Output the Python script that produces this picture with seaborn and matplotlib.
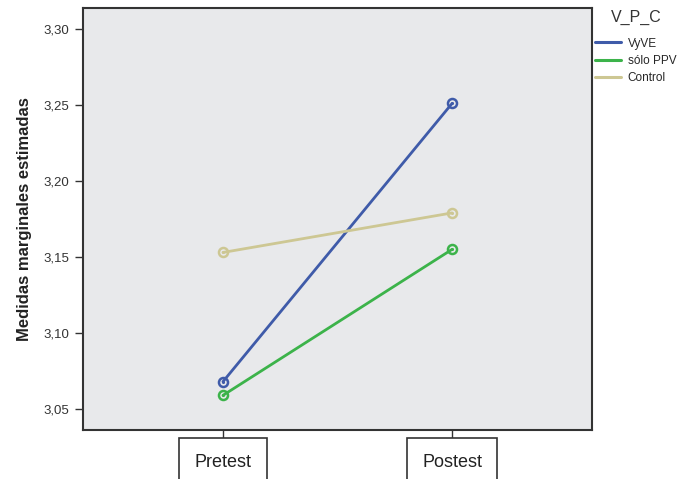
import matplotlib
matplotlib.use("Agg")
import matplotlib.pyplot as plt
import seaborn as sns
import pandas as pd
from matplotlib.lines import Line2D

# Estimated marginal means per group and moment
moments = ["Pretest", "Postest"]
groups = ["VyVE", "sólo PPV", "Control"]
vyve = [3.068, 3.251]
solo_ppv = [3.059, 3.155]
control = [3.153, 3.179]
yticks = [3.05, 3.10, 3.15, 3.20, 3.25, 3.30]
ytick_labels = ["3,05", "3,10", "3,15", "3,20", "3,25", "3,30"]

colors = {"VyVE": "#3f5ba9", "sólo PPV": "#3cb34a", "Control": "#cdc793"}

rows = []
for g, vals in zip(groups, [vyve, solo_ppv, control]):
    for i, (m, v) in enumerate(zip(moments, vals)):
        rows.append({"grupo": g, "momento": m, "pos": i, "valor": v})
df = pd.DataFrame(rows)

sns.set_style("white")
plt.rcParams["font.family"] = ["Liberation Sans", "DejaVu Sans"]

fig = plt.figure(figsize=(6.93, 4.79), dpi=100)
ax = fig.add_axes([83 / 693, 1 - 430 / 479, 509 / 693, 422 / 479])
ax.set_facecolor("#e8e9eb")

for g in groups:
    sub = df[df["grupo"] == g]
    c = colors[g]
    sns.lineplot(data=sub, x="pos", y="valor", ax=ax, color=c, lw=2.0,
                 marker="o", ms=6.5, mfc="none", mec=c, mew=1.8, legend=False)
    sns.scatterplot(data=sub, x="pos", y="valor", ax=ax, color=c, s=5,
                    linewidth=0, legend=False, zorder=5)

ax.set_xlim(-0.611, 1.611)
ax.set_ylim(3.0362, 3.3138)
ax.set_yticks(yticks)
ax.set_yticklabels(ytick_labels)
ax.set_xticks([0, 1])
ax.set_xticklabels(moments)
ax.set_xlabel("")
ax.set_ylabel("Medidas marginales estimadas", fontsize=12, fontweight="bold",
              color="#222222", labelpad=8)

for s in ax.spines.values():
    s.set_color("#333333")
    s.set_linewidth(1.5)

ax.tick_params(axis="y", direction="out", length=6, width=1, color="#333333",
               labelsize=9.5, labelcolor="#333333", pad=4, left=True)
ax.tick_params(axis="x", direction="out", length=7, width=1, color="#333333",
               labelsize=13, labelcolor="#222222", pad=10, bottom=True)
for lbl in ax.get_xticklabels():
    lbl.set_bbox(dict(boxstyle="square,pad=0.85", fc="white", ec="#333333", lw=1.2))

# Legend title drawn separately so it sits a little above the entries
fig.text(636 / 693, 1 - 17 / 479, "V_P_C", ha="center", va="center",
         fontsize=11.5, color="#333333")
handles = [Line2D([0], [0], color=colors[g], lw=2.2) for g in groups]
fig.legend(handles, groups, loc="upper left",
           bbox_to_anchor=(584 / 693, 1 - 27 / 479), frameon=False,
           fontsize=8.5, handlelength=2.2, handletextpad=0.6,
           labelspacing=0.45)

fig.savefig("out.png", dpi=100)
